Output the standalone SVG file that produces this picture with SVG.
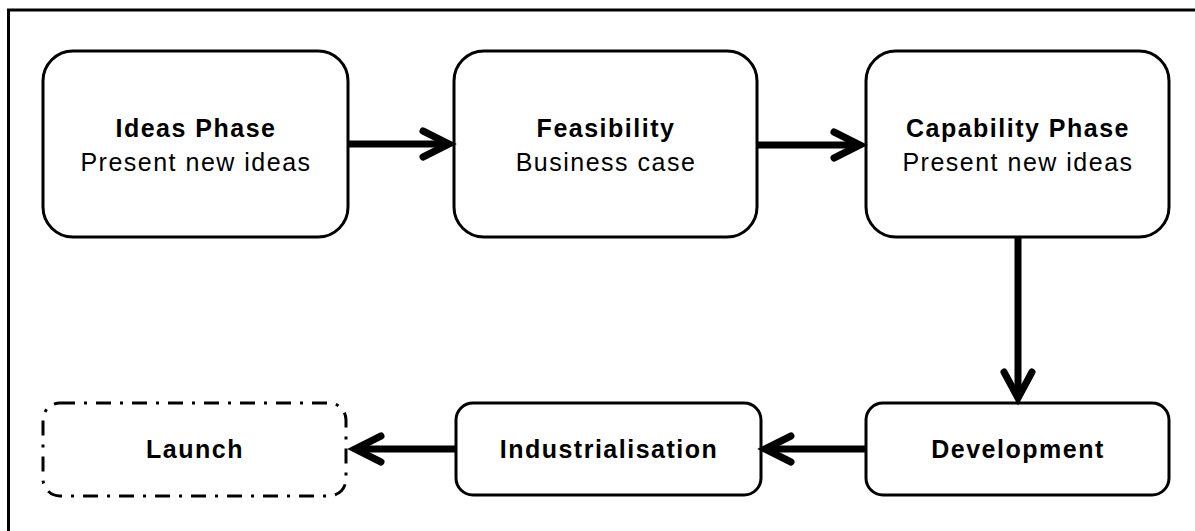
<svg xmlns="http://www.w3.org/2000/svg" width="1195" height="531" viewBox="0 0 1195 531">
<style>
.box{fill:#fff;stroke:#000;stroke-width:3}
.dash{fill:#fff;stroke:#000;stroke-width:3;stroke-dasharray:15 9 3 9}
.t{font-family:"Liberation Sans",Arial,sans-serif;font-size:25px;text-anchor:middle;fill:#000;letter-spacing:1.5px}
.b{font-weight:bold}
.c{fill:none;stroke:#000;stroke-width:7}
.h{fill:none;stroke:#000;stroke-width:7;stroke-linecap:round;stroke-linejoin:miter}
</style>
<rect x="0" y="0" width="1195" height="531" fill="#fff"/>
<rect x="8.5" y="10" width="1200" height="540" fill="none" stroke="#000" stroke-width="3"/>
<g id="ideas">
<rect class="box" x="43" y="51" width="305" height="186" rx="30"/>
<text class="t b" x="196" y="137">Ideas Phase</text>
<text class="t" x="196" y="171">Present new ideas</text>
</g>
<g id="feasibility">
<rect class="box" x="454" y="51" width="303" height="186" rx="30"/>
<text class="t b" x="606" y="137">Feasibility</text>
<text class="t" x="606" y="171">Business case</text>
</g>
<g id="capability">
<rect class="box" x="866" y="51" width="303" height="186" rx="30"/>
<text class="t b" x="1018" y="137">Capability Phase</text>
<text class="t" x="1018" y="171">Present new ideas</text>
</g>
<g id="development">
<rect class="box" x="866" y="403" width="303" height="92" rx="17"/>
<text class="t b" x="1018" y="458">Development</text>
</g>
<g id="industrialisation">
<rect class="box" x="456" y="403" width="305" height="92" rx="17"/>
<text class="t b" x="609" y="458">Industrialisation</text>
</g>
<g id="launch">
<rect class="dash" x="43" y="403" width="303" height="93" rx="17"/>
<text class="t b" x="195" y="458">Launch</text>
</g>
<g id="connectors">
<line class="c" x1="349" y1="144" x2="448" y2="144"/>
<polyline class="h" points="423,131 449,144 423,157"/>
<line class="c" x1="758" y1="145" x2="859" y2="145"/>
<polyline class="h" points="834,132 860,145 834,158"/>
<line class="c" x1="1018" y1="238" x2="1018" y2="396"/>
<polyline class="h" points="1004,372 1018,398 1032,372"/>
<line class="c" x1="865" y1="449" x2="766" y2="449"/>
<polyline class="h" points="791,436 765,449 791,462"/>
<line class="c" x1="455" y1="449" x2="356" y2="449"/>
<polyline class="h" points="381,436 355,449 381,462"/>
</g>
</svg>
